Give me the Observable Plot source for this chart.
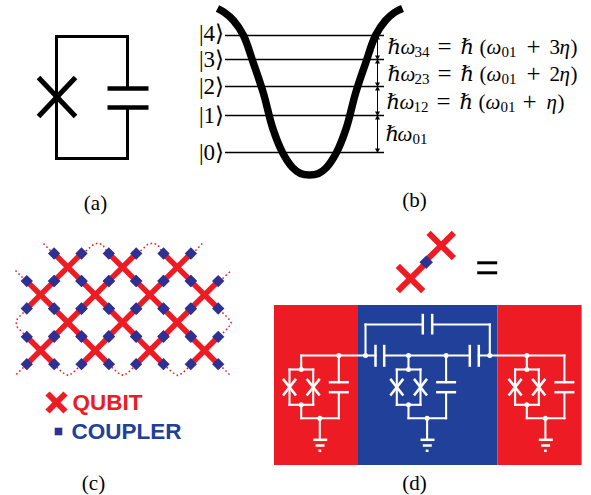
<!DOCTYPE html>
<html><head><meta charset="utf-8">
<script src="https://cdn.jsdelivr.net/npm/d3@7"></script>
<script src="https://cdn.jsdelivr.net/npm/@observablehq/plot@0.6"></script>
<style>html,body{margin:0;padding:0;background:#fff}svg{display:block}
svg text{font-family:"Liberation Serif","DejaVu Serif",serif !important}
svg .sans text{font-family:"Liberation Sans",Arial,sans-serif !important}</style>
</head><body><div id="chart"></div>
<script>
// ---------- (a) circuit ----------
const aWires = [[56,97,56,36],[56,36,127,36],[127,36,127,88],[56,97,56,158],[56,158,127,158],[127,107,127,158]];
const aPlates = [[107,88,148,88],[107,107,148,107]];
const aCross = [[38,77,75,116],[38,116,75,77]];
// ---------- (b) well ----------
const wellX = [217,224,233,243,253,263,272,282,292,300,309,318,326,336,346,355,365,375,385,394,402];
const wellY = [8,12,20,35,63,93,127,152,167,173,174.5,173,167,152,127,93,63,35,20,12,8];
const levelY = [152,115,86,59,35];
const ketLabels = ["|0⟩","|1⟩","|2⟩","|3⟩","|4⟩"];
const ketY = [152,115,86,59,33];
const arrowX = 377;
const arrowSpans = [[35,59],[59,86],[86,115],[115,152]];
const eqRows = [
  {base:53, parts:[["ℏ",387,21,0],["ω",400,21,1],["34",414,15,0],["=",437,25,0],["ℏ",460,21,0],["(",479,21,0],["ω",486,21,1],["01",501,15,0],["+",526,25,0],["3",549,21,0],["η",559,21,1],[")",570,21,0]]},
  {base:80, parts:[["ℏ",387,21,0],["ω",400,21,1],["23",414,15,0],["=",437,25,0],["ℏ",460,21,0],["(",479,21,0],["ω",486,21,1],["01",501,15,0],["+",526,25,0],["2",549,21,0],["η",559,21,1],[")",570,21,0]]},
  {base:108, parts:[["ℏ",386,21,0],["ω",399,21,1],["12",413,15,0],["=",436,25,0],["ℏ",459,21,0],["(",478,21,0],["ω",485,21,1],["01",500,15,0],["+",522,25,0],["η",546,21,1],[")",557,21,0]]},
  {base:140, parts:[["ℏ",385,21,0],["ω",397,21,1],["01",412,15,0]]}
];
const panelLabels = [["(a)",95,203],["(b)",414,200],["(c)",93,483],["(d)",414,483]];
// ---------- (c) lattice ----------
const qubitX = [67.3,122,176.7,40,94.7,149.3,204,67.3,122,176.7,40,94.7,149.3,204];
const qubitY = [266.7,266.7,266.7,294.3,294.3,294.3,294.3,322,322,322,350,350,350,350];
const armLen = 13.7;
const dotted = [
  [[43,243],[53,253.3]],[[82,253.3],[93,244],[97,242.7],[102,244],[108,253.3]],[[137,253.3],[147,244],[152,242.7],[157,244],[163,253.3]],[[192,253.3],[202,242.7]],
  [[15,270],[26,281]],[[26,309],[17,318],[15.7,322.3],[17,327],[26,336]],
  [[219,281],[230,270.7]],[[219,309],[228,318],[230.7,322.3],[228,327],[219,336]],
  [[26,364],[15.7,374]],[[53,364],[63,372.7],[67.7,375],[72,372.7],[81,364]],[[108,364],[118,372.7],[122.7,375],[127,372.7],[136,364]],[[163,364],[173,372.7],[177.3,375],[182,372.7],[191,364]],[[219,364],[230,375]]
];
const legendQubit = [[47,393,65,411],[47,411,65,393]];
const legendCoupler = [[54.2,431,61.8,431]];
const legendTexts = [["QUBIT",72,402,"#ED1C24"],["COUPLER",71,431,"#21409A"]];
// ---------- (d) circuit ----------
const panels = [[274,358,"#ED1C24"],[358,497.3,"#21409A"],[497.3,581.6,"#ED1C24"]];
const panelTop = 305, panelBottom = 465;
const unitOffsets = [0,107.3,225.6];
const unitWires = [
  [300.7,355,300.7,369],[289,369,312.7,369],[289,369,289,404.3],[312.7,369,312.7,404.3],[289,404.3,312.7,404.3],
  [300.7,404.3,300.7,417.7],[300.7,417.7,338.3,417.7],[319.3,417.7,319.3,439.3],[338.3,355,338.3,381.7],[338.3,391.7,338.3,417.7]
];
const unitPlates = [[328.3,381.7,348.3,381.7],[328.3,391.7,348.3,391.7],[312.7,439.3,326.7,439.3],[315,445,324,445],[317.9,450.3,320.7,450.3]];
const unitCross = [[282.5,378.4,295.5,395],[282.5,395,295.5,378.4],[306.2,378.4,319.2,395],[306.2,395,319.2,378.4]];
const unitNodes = [[300.7,369],[300.7,404.3],[319.3,417.7]];
const busWires = [
  [300.7,355,375,355],[383.7,355,469.3,355],[478.3,355,563.9,355],
  [365,355,365,324],[365,324,422.3,324],[431.7,324,489.3,324],[489.3,324,489.3,355]
];
const busPlates = [[375,344.3,375,366.3],[383.7,344.3,383.7,366.3],[469.3,344.3,469.3,366.3],[478.3,344.3,478.3,366.3],[422.3,313.3,422.3,334],[431.7,313.3,431.7,334]];
const busNodes = [[338.3,355],[365,355],[408,355],[445.6,355],[489.3,355],[526.3,355]];
const iconBond = [[410,278,440.7,245]];
const iconCross = [[397.3,265.3,422.7,290.7],[397.3,290.7,422.7,265.3],[428,232.3,453.4,257.7],[428,257.7,453.4,232.3]];
const iconCoupler = [[422.3,265.1,429.1,258.3]];
const equalsBars = [[476.7,262.3,496.7,262.3],[476.7,272.3,496.7,272.3]];

// ---------- helpers ----------
const seg = (rows, o) => Plot.link(rows, {x1:d=>d[0], y1:d=>d[1], x2:d=>d[2], y2:d=>d[3], ...o});
const RED="#ED1C24", BLUE="#2E3192", WHITE="#fff";
const latticeArms = qubitX.flatMap((x,i)=>[[x-armLen,qubitY[i]-armLen,x+armLen,qubitY[i]+armLen],[x-armLen,qubitY[i]+armLen,x+armLen,qubitY[i]-armLen]]);
const couplerHalf = 3.08;
const couplers = latticeArms.flatMap(a=>[[a[0],a[1]],[a[2],a[3]]]).map(c=>[c[0]-couplerHalf,c[1]-couplerHalf,c[0]+couplerHalf,c[1]+couplerHalf]);
const dottedRows = dotted.flatMap((p,k)=>p.map(q=>({x:q[0],y:q[1],k})));
const well = wellX.map((x,i)=>({x,y:wellY[i]}));
const eqFlat = eqRows.flatMap(r=>r.parts.map(p=>({t:p[0],x:p[1],size:p[2],it:p[3],y:r.base+(p[2]<20?3:p[2]>21?1:0)})));
const shift = rows => unitOffsets.flatMap(o=>rows.map(w=>[w[0]+o,w[1],w[2]+o,w[3]]));
const allNodes = busNodes.concat(unitOffsets.flatMap(o=>unitNodes.map(n=>[n[0]+o,n[1]])));

const chart = Plot.plot({
  width:591, height:495, margin:0,
  x:{domain:[0,591],range:[0,591],axis:null},
  y:{domain:[0,495],range:[0,495],axis:null},
  style:{background:"transparent"},
  marks:[
    // (a)
    seg(aWires,{stroke:"#000",strokeWidth:3,strokeLinecap:"square"}),
    seg(aPlates,{stroke:"#000",strokeWidth:4.5}),
    seg(aCross,{stroke:"#000",strokeWidth:5}),
    // (b)
    Plot.ruleY(levelY,{x1:225,x2:384,stroke:"#000",strokeWidth:1.5}),
    Plot.line(well,{x:"x",y:"y",curve:"catmull-rom",stroke:"#000",strokeWidth:7.5,strokeLinecap:"butt"}),
    Plot.text(ketLabels,{x:()=>211,y:(d,i)=>ketY[i],text:d=>d,fontSize:23,fill:"#000"}),
    seg(arrowSpans.map(s=>[arrowX,s[0],arrowX,s[1]]),{stroke:"#000",strokeWidth:1}),
    Plot.dot(arrowSpans,{x:()=>arrowX,y:d=>d[0]+2.5,symbol:"triangle",r:1.9,fill:"#000",stroke:"none"}),
    Plot.dot(arrowSpans,{x:()=>arrowX,y:d=>d[1]-2.5,symbol:"triangle",r:1.9,rotate:180,fill:"#000",stroke:"none"}),
    Plot.text(eqFlat.filter(d=>!d.it),{x:"x",y:"y",text:"t",fontSize:"size",textAnchor:"start",lineAnchor:"bottom",fill:"#000"}),
    Plot.text(eqFlat.filter(d=>d.it),{x:"x",y:"y",text:"t",fontSize:"size",fontStyle:"italic",textAnchor:"start",lineAnchor:"bottom",fill:"#000"}),
    // panel labels
    Plot.text(panelLabels,{x:d=>d[1],y:d=>d[2],text:d=>d[0],fontSize:21,fill:"#000"}),
    // (c)
    Plot.line(dottedRows,{x:"x",y:"y",z:"k",curve:"linear",stroke:RED,strokeWidth:1.5,strokeDasharray:"1.6,2.6",strokeLinecap:"butt"}),
    seg(latticeArms,{stroke:RED,strokeWidth:5.5}),
    seg(couplers,{stroke:BLUE,strokeWidth:8.7}),
    seg(legendQubit,{stroke:RED,strokeWidth:6}),
    seg(legendCoupler,{stroke:BLUE,strokeWidth:7.6}),
    Plot.text(legendTexts,{x:d=>d[1],y:d=>d[2],text:d=>d[0],fill:d=>d[3],textAnchor:"start",fontSize:22.5,fontWeight:"bold",className:"sans"}),
    // (d)
    Plot.rect(panels,{x1:d=>d[0],x2:d=>d[1],y1:()=>panelTop,y2:()=>panelBottom,fill:d=>d[2]}),
    seg(shift(unitWires),{stroke:WHITE,strokeWidth:2.1,strokeLinecap:"square"}),
    seg(shift(unitPlates),{stroke:WHITE,strokeWidth:2.5}),
    seg(shift(unitCross),{stroke:WHITE,strokeWidth:2.6}),
    seg(busWires,{stroke:WHITE,strokeWidth:2.1,strokeLinecap:"square"}),
    seg(busPlates,{stroke:WHITE,strokeWidth:2.5}),
    Plot.dot(allNodes,{x:d=>d[0],y:d=>d[1],r:2.5,fill:WHITE,stroke:"none"}),
    seg(iconBond,{stroke:RED,strokeWidth:4}),
    seg(iconCross,{stroke:RED,strokeWidth:6}),
    seg(iconCoupler,{stroke:BLUE,strokeWidth:9.5}),
    seg(equalsBars,{stroke:"#000",strokeWidth:3})
  ]
});
document.getElementById("chart").append(chart);
</script></body></html>
